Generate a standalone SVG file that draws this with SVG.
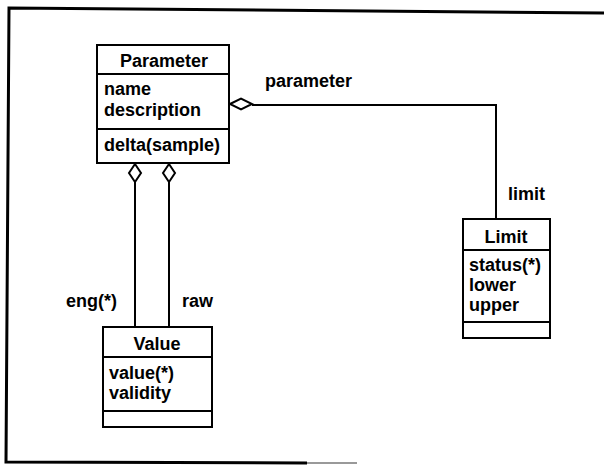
<svg xmlns="http://www.w3.org/2000/svg" width="604" height="465" viewBox="0 0 604 465">
<style>
.box{fill:#fff;stroke:#000;stroke-width:2}
.sep{stroke:#000;stroke-width:2}
.t{font-family:"Liberation Sans",Arial,sans-serif;font-weight:bold;font-size:18px;fill:#000}
.c{text-anchor:middle}
.ln{fill:none;stroke:#000;stroke-width:2}
.dia{fill:#fff;stroke:#000;stroke-width:2}
</style>
<rect width="604" height="465" fill="#fff"/>
<g id="frame">
<path d="M604,13 L9,8 L6,462 L307,463" fill="none" stroke="#000" stroke-width="3"/>
<path d="M307,463 L357,463" stroke="#999" stroke-width="2"/>
</g>
<g id="connectors">
<path class="ln" d="M252,105 L496,105 L496,219"/>
<polygon class="dia" points="230,104 241,98.5 252,104 241,109.5"/>
<path class="ln" d="M135,182 L135,327"/>
<polygon class="dia" points="135,164 141,173 135,182 129,173"/>
<path class="ln" d="M169,182 L169,327"/>
<polygon class="dia" points="169,164 175,173 169,182 163,173"/>
<text class="t" x="265" y="87">parameter</text>
<text class="t" x="508" y="200">limit</text>
<text class="t" x="117" y="307" text-anchor="end">eng(*)</text>
<text class="t" x="182" y="307">raw</text>
</g>
<g id="Parameter">
<rect class="box" x="97" y="45" width="132" height="118"/>
<line class="sep" x1="97" y1="74" x2="229" y2="74"/>
<line class="sep" x1="97" y1="129" x2="229" y2="129"/>
<text class="t c" x="164" y="67">Parameter</text>
<text class="t" x="104" y="95">name</text>
<text class="t" x="104" y="116">description</text>
<text class="t" x="104" y="151">delta(sample)</text>
</g>
<g id="Value">
<rect class="box" x="103" y="327" width="109" height="100"/>
<line class="sep" x1="103" y1="357" x2="212" y2="357"/>
<line class="sep" x1="103" y1="411" x2="212" y2="411"/>
<text class="t c" x="157" y="350">Value</text>
<text class="t" x="109" y="379">value(*)</text>
<text class="t" x="109" y="399">validity</text>
</g>
<g id="Limit">
<rect class="box" x="463" y="219" width="87" height="119"/>
<line class="sep" x1="463" y1="250" x2="550" y2="250"/>
<line class="sep" x1="463" y1="322" x2="550" y2="322"/>
<text class="t c" x="506" y="243">Limit</text>
<text class="t" x="469" y="271">status(*)</text>
<text class="t" x="469" y="291">lower</text>
<text class="t" x="469" y="311">upper</text>
</g>
</svg>
